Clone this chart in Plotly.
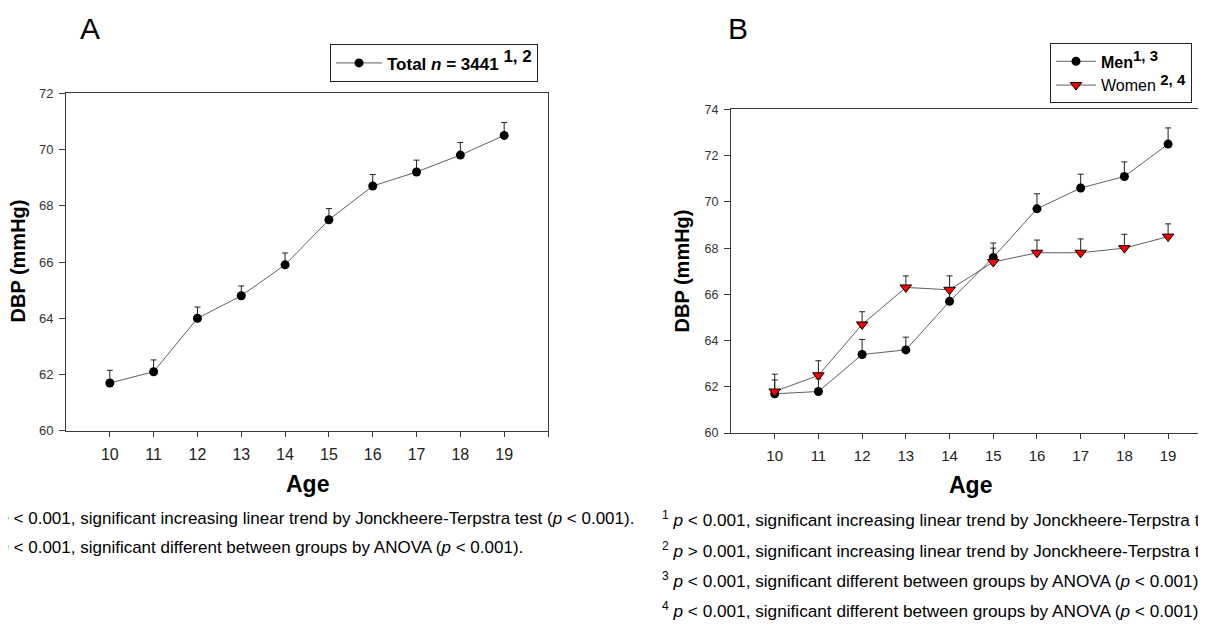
import plotly.graph_objects as go

W, H = 1206, 627
# observed mapping of the rendered page: x_page = x_fig + 8 ; y_page ~ 14.5 + 0.98 * y_fig
X_OFF, Y_OFF, Y_SCALE = 8, 14.5, 0.98

ages = [10, 11, 12, 13, 14, 15, 16, 17, 18, 19]
total_mean = [61.7, 62.1, 64.0, 64.8, 65.9, 67.5, 68.7, 69.2, 69.8, 70.5]
total_err = [0.45, 0.42, 0.4, 0.35, 0.42, 0.4, 0.41, 0.42, 0.45, 0.46]
men_mean = [61.7, 61.8, 63.4, 63.6, 65.7, 67.6, 69.7, 70.6, 71.1, 72.5]
men_err = [0.6, 0.55, 0.65, 0.55, 0.5, 0.62, 0.65, 0.6, 0.63, 0.7]
women_mean = [61.8, 62.5, 64.7, 66.3, 66.2, 67.4, 67.8, 67.8, 68.0, 68.5]
women_err = [0.75, 0.63, 0.55, 0.5, 0.6, 0.6, 0.55, 0.6, 0.6, 0.55]
xA_ticks = [10, 11, 12, 13, 14, 15, 16, 17, 18, 19, 20]
xA_ticktext = ["10", "11", "12", "13", "14", "15", "16", "17", "18", "19", ""]
xB_ticks = [10, 11, 12, 13, 14, 15, 16, 17, 18, 19]
yA_ticks = [60, 62, 64, 66, 68, 70, 72]
yB_ticks = [60, 62, 64, 66, 68, 70, 72, 74]

FONT = "Arial, 'Liberation Sans', sans-serif"
LINE_C = "#606060"
AX_C = "#3a3a3a"


def px(x):
    return (x - X_OFF) / W


def py(y):
    return 1 - ((y - Y_OFF) / Y_SCALE) / H


def err(arr, color="#222222"):
    return dict(type="data", array=arr, arrayminus=[0] * len(arr), symmetric=False,
                color=color, thickness=1, width=3)


fig = go.Figure()
fig.add_trace(go.Scatter(
    x=ages, y=total_mean, mode="lines+markers", xaxis="x", yaxis="y",
    name="<b>Total <i>n</i> = 3441 <sup><span style='font-size:17px'>1, 2</span></sup></b>",
    legend="legend",
    line=dict(color=LINE_C, width=1),
    marker=dict(symbol="circle", size=9, color="black"),
    error_y=err(total_err),
))
fig.add_trace(go.Scatter(
    x=ages, y=men_mean, mode="lines+markers", xaxis="x2", yaxis="y2",
    name="<b>Men</b><sup><b><span style='font-size:15px'>1, 3</span></b></sup>",
    legend="legend2",
    line=dict(color=LINE_C, width=1),
    marker=dict(symbol="circle", size=9, color="black"),
    error_y=err(men_err),
))
fig.add_trace(go.Scatter(
    x=ages, y=women_mean, mode="lines+markers", xaxis="x2", yaxis="y2",
    name="Women <sup><b><span style='font-size:15px'>2, 4</span></b></sup>",
    legend="legend2",
    line=dict(color=LINE_C, width=1),
    marker=dict(symbol="triangle-down", size=10, color="#ff0000",
                line=dict(color="black", width=1)),
    error_y=err(women_err),
))

xa_common = dict(showgrid=False, zeroline=False, showline=True, linecolor=AX_C, linewidth=1,
                 ticks="outside", ticklen=5, tickcolor=AX_C, ticklabelstandoff=4)
ya_common = dict(showgrid=False, zeroline=False, showline=True, linecolor=AX_C, linewidth=1,
                 ticks="outside", ticklen=6, tickcolor=AX_C, ticklabelstandoff=3)

fig.update_layout(
    width=W, height=H, margin=dict(l=0, r=0, t=0, b=0),
    paper_bgcolor="white", plot_bgcolor="white",
    font=dict(family=FONT, color="black"),
    xaxis=dict(xa_common, domain=[px(66), px(548)], range=[9, 20], anchor="y", mirror=True,
               tickvals=xA_ticks, ticktext=xA_ticktext,
               tickfont=dict(family=FONT, size=16, color="#222222")),
    yaxis=dict(ya_common, domain=[py(432), py(93)], range=[60, 72], tickvals=yA_ticks,
               anchor="x", mirror=True,
               tickfont=dict(family=FONT, size=13, color="#333333")),
    xaxis2=dict(xa_common, domain=[px(731), 1], range=[9, 20.05], anchor="y2", mirror=True,
                tickvals=xB_ticks,
                tickfont=dict(family=FONT, size=15, color="#222222")),
    yaxis2=dict(ya_common, domain=[py(434.3), py(109.3)], range=[60, 74], tickvals=yB_ticks,
                anchor="x2",
                tickfont=dict(family=FONT, size=12.5, color="#333333")),
    legend=dict(x=px(330), y=py(44), xanchor="left", yanchor="top", itemwidth=46,
                bordercolor="#222222", borderwidth=1, bgcolor="white",
                font=dict(family=FONT, size=17, color="black")),
    legend2=dict(x=px(1050), y=py(43), xanchor="left", yanchor="top", itemwidth=40,
                 bordercolor="#222222", borderwidth=1, bgcolor="white", tracegroupgap=0,
                 font=dict(family=FONT, size=16, color="black")),
    showlegend=True,
)

ann = []


def add_text(text, x, y, size, bold=False, angle=0, xanchor="center"):
    ann.append(dict(text=("<b>%s</b>" % text) if bold else text, x=px(x), y=py(y),
                    xref="paper", yref="paper", xanchor=xanchor, yanchor="middle",
                    showarrow=False, textangle=angle,
                    font=dict(family=FONT, size=size, color="black")))


add_text("A", 90, 28, 30)
add_text("B", 738, 28, 30)
add_text("DBP (mmHg)", 18, 262, 20, bold=True, angle=-90)
add_text("DBP (mmHg)", 682, 272, 20, bold=True, angle=-90)
add_text("Age", 307, 485, 23, bold=True)
add_text("Age", 970, 486, 23, bold=True)

foot_A = [
    "<sup>1</sup> <i>p</i> < 0.001, significant increasing linear trend by Jonckheere-Terpstra test (<i>p</i> < 0.001).",
    "<sup>2</sup> <i>p</i> < 0.001, significant different between groups by ANOVA (<i>p</i> < 0.001).",
]
foot_B = [
    "<sup>1</sup> <i>p</i> < 0.001, significant increasing linear trend by Jonckheere-Terpstra test (<i>p</i> < 0.001).",
    "<sup>2</sup> <i>p</i> > 0.001, significant increasing linear trend by Jonckheere-Terpstra test (<i>p</i> < 0.001).",
    "<sup>3</sup> <i>p</i> < 0.001, significant different between groups by ANOVA (<i>p</i> < 0.001).",
    "<sup>4</sup> <i>p</i> < 0.001, significant different between groups by ANOVA (<i>p</i> < 0.001).",
]
for i, t in enumerate(foot_A):
    add_text(t, -14, 519 + 29 * i, 17, xanchor="left")
for i, t in enumerate(foot_B):
    add_text(t, 660, 521 + 30.4 * i, 17.2, xanchor="left")

fig.update_layout(annotations=ann)

fig.write_html("out.html")
